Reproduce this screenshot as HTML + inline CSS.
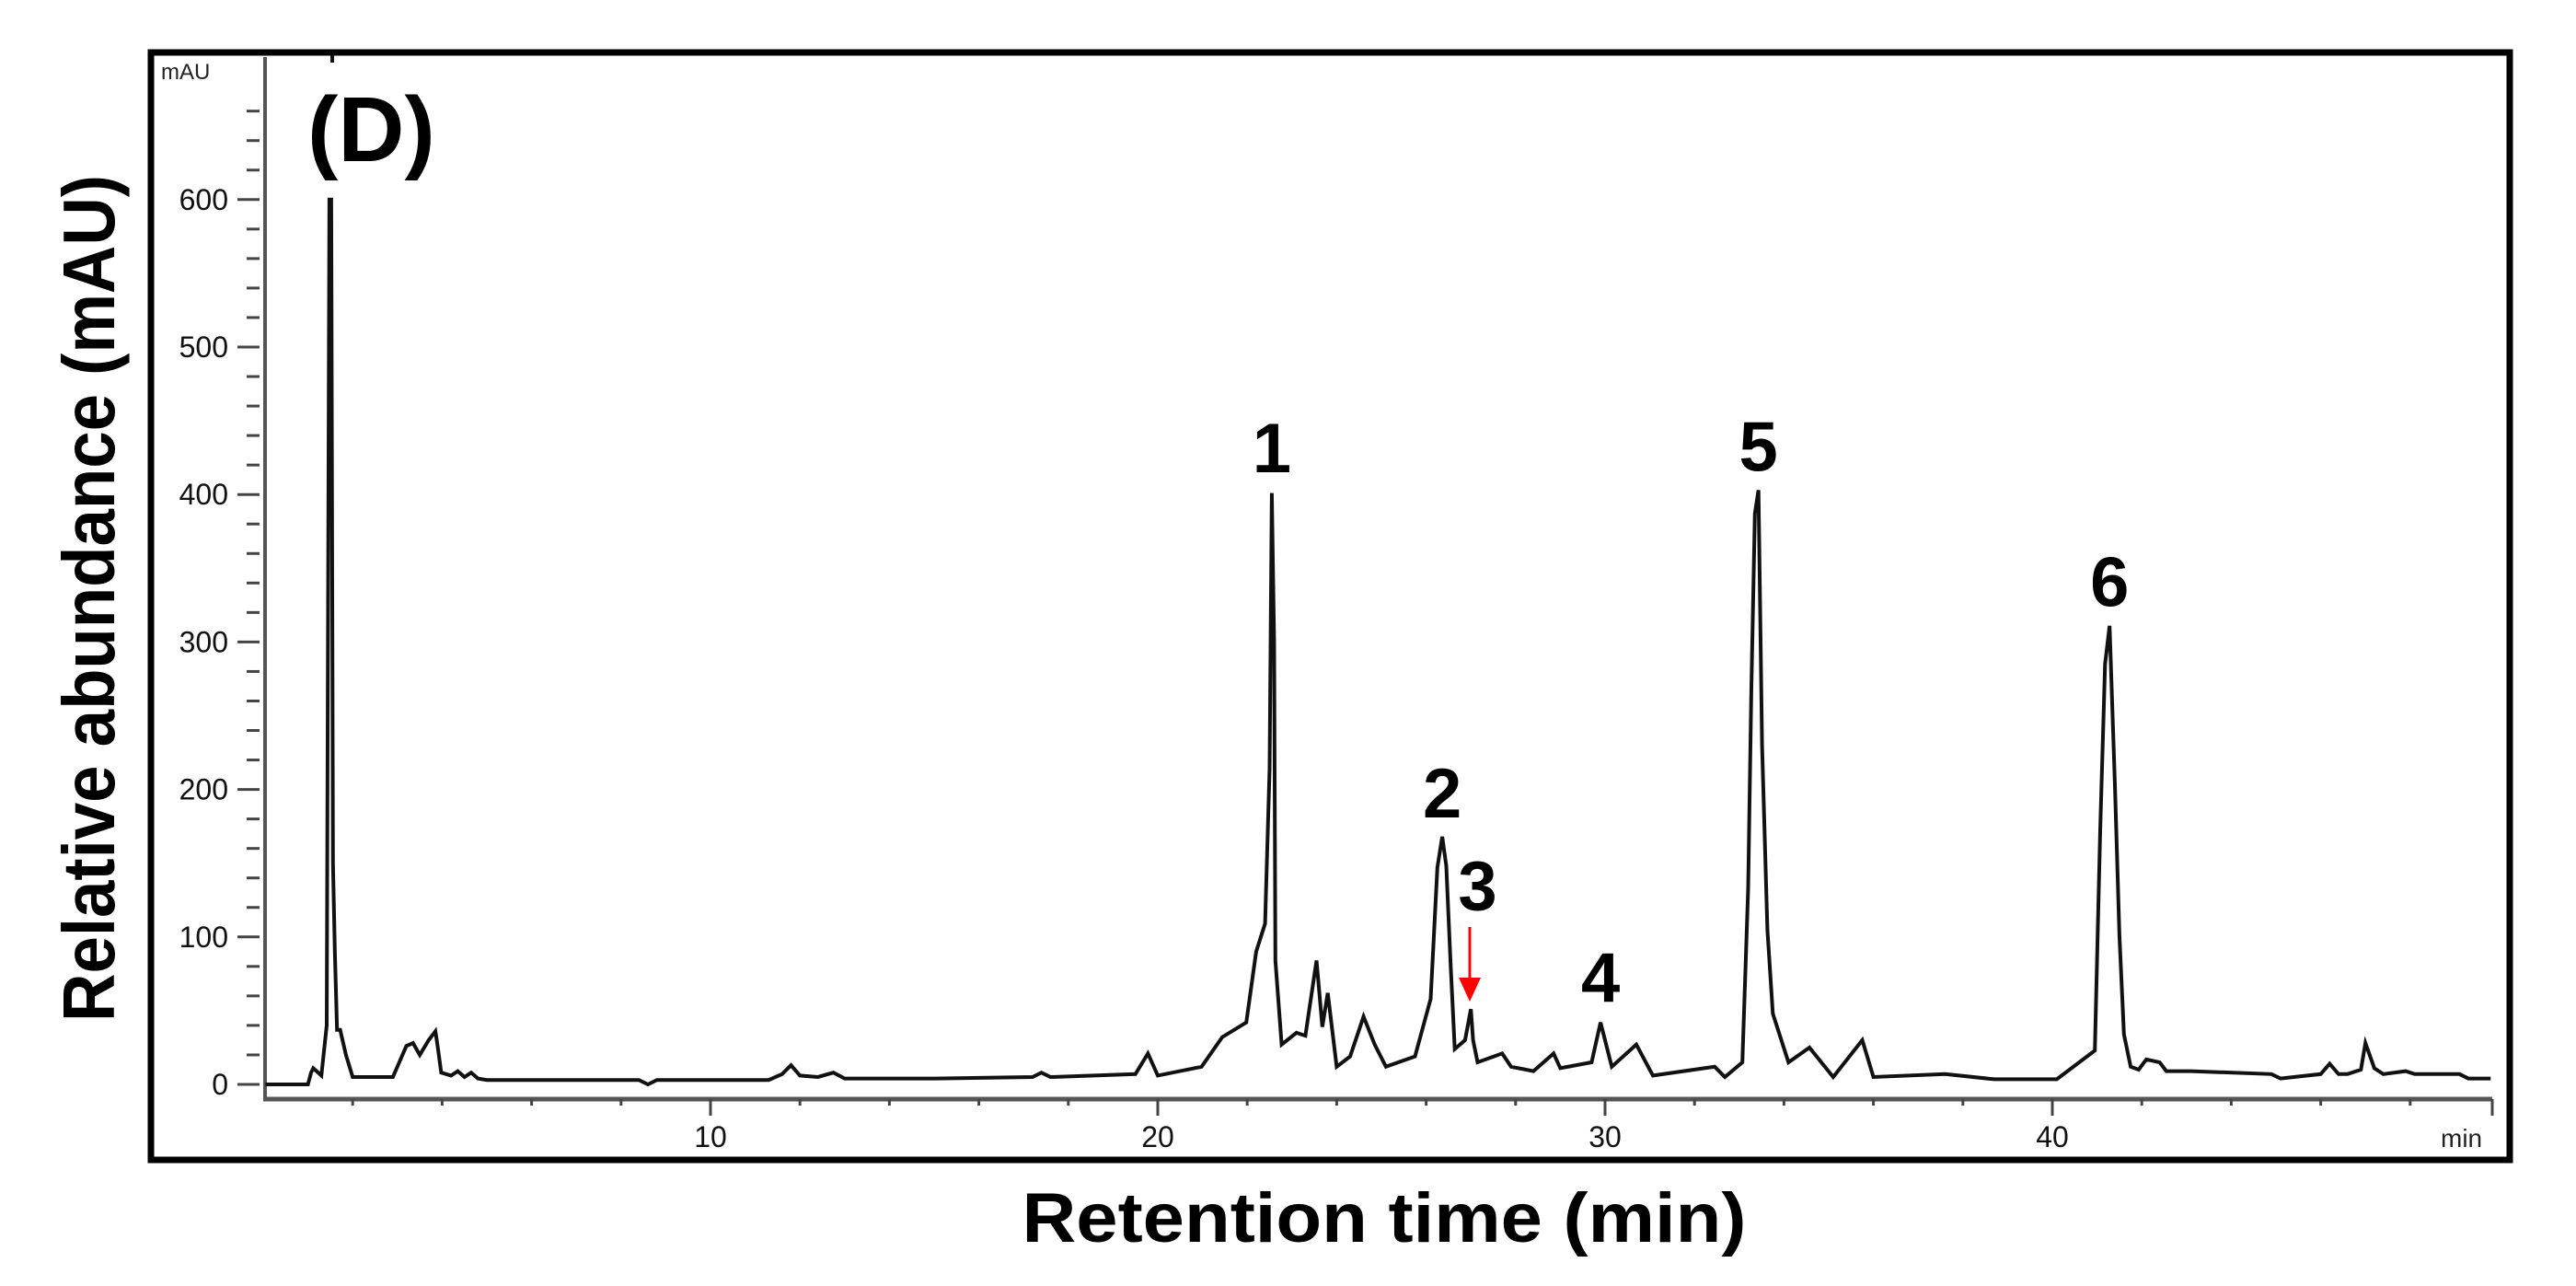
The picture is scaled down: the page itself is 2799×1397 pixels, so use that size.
<!DOCTYPE html>
<html><head><meta charset="utf-8"><style>
html,body{margin:0;padding:0;background:#fff;}
svg{display:block;}
text{font-family:"Liberation Sans",sans-serif;}
</style></head>
<body>
<svg id="chart" width="2799" height="1397" viewBox="0 0 2799 1397" xmlns="http://www.w3.org/2000/svg">
<rect x="164" y="57" width="2563" height="1203" fill="none" stroke="#000" stroke-width="7"/>
<g id="axes"></g>
<path id="trace" fill="none" stroke="#111" stroke-width="4" stroke-linejoin="miter"/>
<line x1="361" y1="60" x2="361" y2="68" stroke="#111" stroke-width="4"/>
<g id="labels"></g>
<text x="334" y="175" font-size="100" font-weight="bold">(D)</text>
<text x="175" y="86" font-size="24" fill="#222">mAU</text>
<text x="2652" y="1246" font-size="28" fill="#222">min</text>
<text x="1504" y="1349" font-size="76" font-weight="bold" text-anchor="middle" textLength="787" lengthAdjust="spacingAndGlyphs">Retention time (min)</text>
<text transform="translate(124,650) rotate(-90)" x="0" y="0" font-size="80" font-weight="bold" text-anchor="middle" textLength="920" lengthAdjust="spacingAndGlyphs">Relative abundance (mAU)</text>
<line x1="1597" y1="1007" x2="1597" y2="1070" stroke="#f00" stroke-width="3"/>
<polygon points="1585,1062 1609,1062 1597,1088" fill="#f00"/>
</svg>
<script>
const times = [0.05,1.0,1.07,1.12,1.3,1.42,1.48,1.52,1.56,1.6,1.65,1.72,1.85,2.0,2.9,3.2,3.35,3.5,3.7,3.85,3.9,3.98,4.2,4.35,4.5,4.65,4.8,5.0,7.0,8.4,8.6,8.8,11.3,11.6,11.8,12.0,12.4,12.75,13.0,15.0,17.2,17.4,17.6,19.5,19.78,20.0,20.98,21.44,21.98,22.2,22.4,22.5,22.55,22.6,22.63,22.77,23.1,23.3,23.55,23.68,23.8,24.0,24.3,24.6,24.85,25.1,25.75,26.1,26.25,26.36,26.45,26.55,26.64,26.87,27.0,27.05,27.15,27.7,27.9,28.4,28.85,29.0,29.7,29.9,30.15,30.7,31.07,32.45,32.68,33.07,33.2,33.27,33.35,33.43,33.51,33.63,33.75,34.1,34.57,35.1,35.75,36.0,37.6,38.7,40.1,40.95,41.07,41.18,41.28,41.4,41.5,41.6,41.75,41.93,42.1,42.4,42.55,43.1,44.9,45.1,46.0,46.2,46.4,46.6,46.9,47.0,47.2,47.4,47.9,48.1,49.1,49.3,49.8];
const values = [0,0,8,11,6,40,600,600,150,91,37,37,20,5,5,26,28,20,30,36,26,8,6,9,5,8,4,3,3,3,0,3,3,7,13,6,5,8,4,4,5,8,5,7,21,6,12,32,42,90,109,214,401,300,84,27,35,33,84,39,62,12,19,46,27,12,19,58,147,168,148,80,24,30,51,30,15,21,12,9,21,11,15,42,12,27,6,12,5,15,133,266,387,403,230,105,48,15,25,5,30,5,7,3.5,3.5,23,172,285,311,203,101,34,12,10,17,15,9,9,7,4,7,14,7,7,10,28,11,7,9,7,7,4,4];
const peakIds = ["1","2","3","4","5","6"];
const peakTimes = [22.55,26.36,27.15,29.9,33.43,41.28];
const peakLabelValues = [432,198,135,73,433,341];
const yTicks = [0,100,200,300,400,500,600];
const xTicks = [10,20,30,40];

const X0 = 286, PXMIN = 48.6, Y0 = 1178, PXV = 160.2/100;
function xs(t){ return X0 + t*PXMIN; }
function ys(v){ return Y0 - v*PXV; }
const NS = "http://www.w3.org/2000/svg";
const axes = document.getElementById('axes');
function mk(tag, attrs, parent){ const e=document.createElementNS(NS,tag); for(const k in attrs) e.setAttribute(k,attrs[k]); parent.appendChild(e); return e; }

const yAxis = mk('line',{x1:288,y1:62,x2:288,y2:1196,stroke:'#555','stroke-width':4},axes);


const xAxis = mk('line',{x1:286,y1:1194,x2:2708,y2:1194,stroke:'#555','stroke-width':5},axes);



for(let v=0; v<=660; v+=20){
  const major = v%100===0;
  const t = mk('line',{x1: major?258:268, y1: ys(v), x2: 282, y2: ys(v), stroke:'#444','stroke-width':3},axes);
  
  
}
yTicks.forEach(v=>{
  const t = mk('text',{x:248,y:ys(v)+11,'font-size':32,'text-anchor':'end',fill:'#111'},axes);
  t.textContent = v;
  
  
});
for(let m=2; m<=48; m+=2){
  const major = m%10===0;
  const t = mk('line',{x1:xs(m),y1:1194,x2:xs(m),y2: major?1212:1201,stroke:'#444','stroke-width':3},axes);
  
  
}
const endTick = mk('line',{x1:2708,y1:1194,x2:2708,y2:1212,stroke:'#444','stroke-width':3},axes);


xTicks.forEach(m=>{
  const t = mk('text',{x:xs(m),y:1246,'font-size':32,'text-anchor':'middle',fill:'#111'},axes);
  t.textContent = m;
  
  
});

let d = '';
times.forEach((t,i)=>{ d += (i?'L':'M') + xs(t).toFixed(1) + ' ' + ys(values[i]).toFixed(1) + ' '; });
document.getElementById('trace').setAttribute('d', d);

const labels = document.getElementById('labels');
peakIds.forEach((id,i)=>{
  const t = mk('text',{x:xs(peakTimes[i]),y:ys(peakLabelValues[i])+27,'font-size':76,'font-weight':'bold','text-anchor':'middle',fill:'#000'},labels);
  t.textContent = id;
  
  
});
</script>
</body></html>
